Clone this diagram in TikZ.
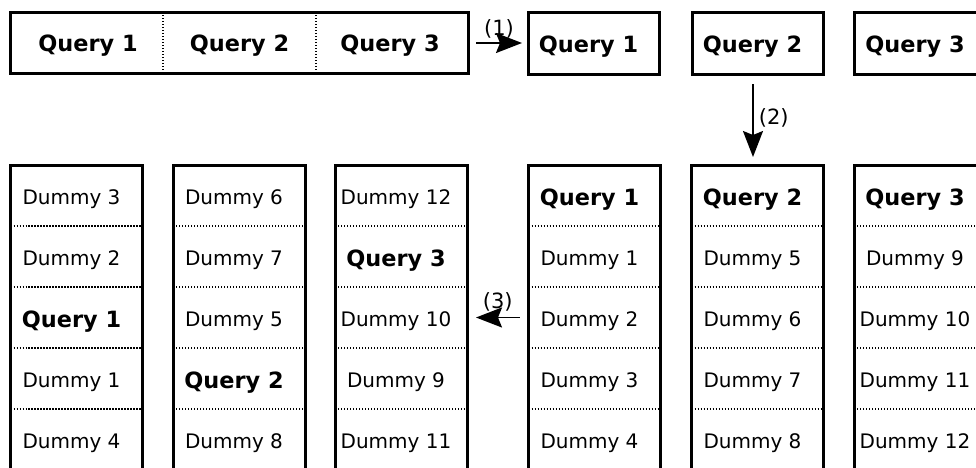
\documentclass[tikz,border=0pt]{standalone}
\usepackage{fontspec}
\setmainfont{DejaVu Sans}
\usetikzlibrary{arrows.meta}
\newcommand\mkcol[7]{%
  \node[cell,label={[lbl]center:#3}] (#1-1) at (#2,195.5) {};
  \node[cell,label={[lbl]center:#4}] (#1-2) at (#2,256.5) {};
  \node[cell,label={[lbl]center:#5}] (#1-3) at (#2,317.5) {};
  \node[cell,label={[lbl]center:#6}] (#1-4) at (#2,378.5) {};
  \node[cell,label={[lbl]center:#7}] (#1-5) at (#2,439.5) {};
  \foreach \k in {1,...,4} \draw[sep] (#1-\k.south west) -- (#1-\k.south east);
  \draw[frame] (#1-5.south west) -- (#1-1.north west) -- (#1-1.north east) -- (#1-5.south east);
}
\newcommand\qb[1]{{\fontsize{11.2}{13}\selectfont\bfseries #1}}
\begin{document}
\begin{tikzpicture}[x=0.5pt,y=-0.5pt,
  frame/.style={line width=1.5pt},
  sep/.style={line width=0.7pt, dash pattern=on 0.6pt off 0.9pt},
  cell/.style={minimum width=66pt, minimum height=30.5pt, inner sep=0pt, outer sep=0pt},
  lbl/.style={xshift=-2.5pt, yshift=-1.8pt, inner sep=0pt, font=\fontsize{10}{12}\selectfont},
  bold/.style={font=\fontsize{11.2}{13}\selectfont\bfseries},
  arr/.style={line width=0.9pt, -{Stealth[length=13pt,width=10pt,inset=2pt]}},
  num/.style={font=\fontsize{10.5}{12}\selectfont, inner sep=0pt}]
\useasboundingbox (0,0) rectangle (976,467);
\clip (0,0) rectangle (976,467);

% top-left combined box
\node[cell, minimum width=76.5pt, bold] (t1) at (88,46) {Query 1};
\node[cell, minimum width=76.5pt, bold] (t2) at (239.5,46) {Query 2};
\node[cell, minimum width=76pt, bold] (t3) at (390,46) {Query 3};
\draw[sep] (163,12) -- (163,73);
\draw[sep] (316,12) -- (316,73);
\draw[frame] (10,12) rectangle (468,73);

% top separate boxes
\node[cell, draw, frame, minimum width=65.5pt, minimum height=31pt, label={[lbl]center:\qb{Query 1}}] (s1) at (593.5,43) {};
\node[cell, draw, frame, minimum width=65.5pt, minimum height=31pt, label={[lbl]center:\qb{Query 2}}] (s2) at (757.5,43) {};
\node[cell, draw, frame, minimum width=65.5pt, minimum height=31pt, label={[lbl]center:\qb{Query 3}}] (s3) at (920,43) {};

% bottom columns
\mkcol{L1}{76.5}{Dummy 3}{Dummy 2}{\qb{Query 1}}{Dummy 1}{Dummy 4}
\mkcol{L2}{239}{Dummy 6}{Dummy 7}{Dummy 5}{\qb{Query 2}}{Dummy 8}
\mkcol{L3}{401}{Dummy 12}{\qb{Query 3}}{Dummy 10}{Dummy 9}{Dummy 11}
\mkcol{R1}{594.5}{\qb{Query 1}}{Dummy 1}{Dummy 2}{Dummy 3}{Dummy 4}
\mkcol{R2}{757.5}{\qb{Query 2}}{Dummy 5}{Dummy 6}{Dummy 7}{Dummy 8}
\mkcol{R3}{920}{\qb{Query 3}}{Dummy 9}{Dummy 10}{Dummy 11}{Dummy 12}

% arrows
\draw[arr] ([xshift=5pt]t3.east |- s1.west) -- ([xshift=-3pt]s1.west)
  node[num, midway, above=2pt] {(1)};
\draw[arr] ([xshift=-2.25pt, yshift=-5pt]s2.south) -- ([xshift=-2.25pt, yshift=4pt]R2-1.north)
  node[num, midway, right=2.5pt, yshift=1.5pt] {(2)};
\draw[arr] ([xshift=-4.5pt]R1-3.west) -- ([xshift=4.5pt]L3-3.east)
  node[num, midway, above=2.5pt] {(3)};
\end{tikzpicture}
\end{document}
